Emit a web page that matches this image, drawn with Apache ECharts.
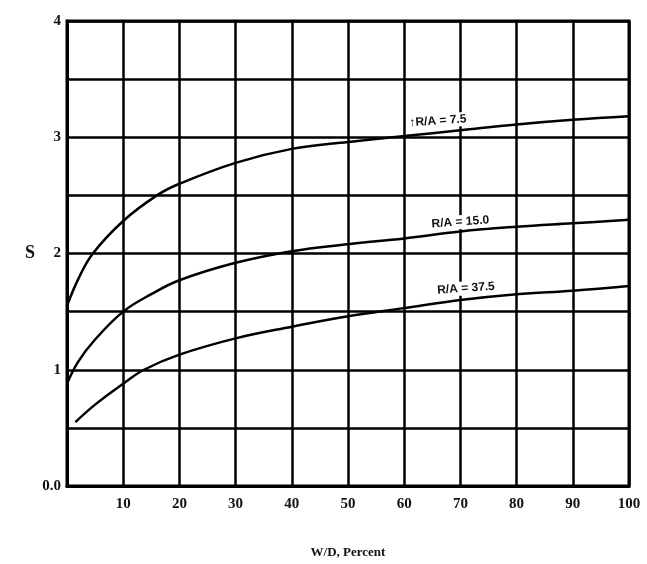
<!DOCTYPE html>
<html><head><meta charset="utf-8">
<script src="https://cdn.jsdelivr.net/npm/echarts@6/dist/echarts.min.js"></script>
<style>html,body{margin:0;padding:0;background:#fff}#c{width:647px;height:564px}</style>
</head><body><div id="c"></div>
<script>
const xTicks = [0,10,20,30,40,50,60,70,80,90,100];
const yTicks = [0,0.5,1,1.5,2,2.5,3,3.5,4];
const xA = [0,2,4.6,10,16,20,30,40,50,60,70,80,90,100];
const yA = [1.55,1.78,2.0,2.28,2.5,2.6,2.78,2.9,2.96,3.01,3.06,3.11,3.15,3.18];
const xB = [0,2,5,10,15,20,30,40,50,60,70,80,90,100];
const yB = [0.88,1.07,1.26,1.5,1.65,1.77,1.92,2.02,2.08,2.13,2.19,2.23,2.26,2.29];
const xC = [1.5,5,10,13.7,20,30,40,50,60,70,80,90,100];
const yC = [0.55,0.7,0.88,1.0,1.13,1.27,1.37,1.46,1.53,1.6,1.65,1.68,1.72];
const curveNames = ['↑R/A = 7.5','R/A = 15.0','R/A = 37.5'];
const labelAt = [[66,3.14],[70,2.27],[71,1.7]];

const font = '"Liberation Serif", "DejaVu Serif", serif';
function mk(xs, ys){ return xs.map((x,i)=>[x, ys[i]]); }
const sets = [mk(xA,yA), mk(xB,yB), mk(xC,yC)];

const chart = echarts.init(document.getElementById('c'));
chart.setOption({
  backgroundColor:'#fff',
  animation:false,
  grid:{left:67, right:18, top:21, bottom:78, show:true, borderColor:'#000', borderWidth:3},
  xAxis:{type:'value', min:0, max:100, interval:10,
    name:'W/D, Percent', nameLocation:'middle', nameGap:60,
    nameTextStyle:{fontFamily:font, fontWeight:'bold', fontSize:13, color:'#111'},
    axisLine:{show:true, lineStyle:{color:'#000', width:3}},
    axisTick:{show:false},
    splitLine:{show:true, lineStyle:{color:'#000', width:2.5}},
    axisLabel:{fontFamily:font, fontWeight:'bold', fontSize:15, color:'#111', margin:11,
      formatter:v=> v===0 ? '' : String(v)}},
  yAxis:{type:'value', min:0, max:4, interval:0.5,
    name:'S', nameLocation:'middle', nameGap:32, nameRotate:0,
    nameTextStyle:{fontFamily:font, fontWeight:'bold', fontSize:18, color:'#111'},
    axisLine:{show:true, lineStyle:{color:'#000', width:3}},
    axisTick:{show:false},
    splitLine:{show:true, lineStyle:{color:'#000', width:2.5}},
    axisLabel:{fontFamily:font, fontWeight:'bold', fontSize:15, color:'#111', margin:6,
      formatter:v=> v===0 ? '0.0' : (Number.isInteger(v) ? String(v) : '')}},
  series: sets.map((d,i)=>({
    type:'line', data:d, smooth:0.4, showSymbol:false, symbol:'none',
    lineStyle:{color:'#000', width:2.5},
    markPoint:{symbol:'circle', symbolSize:0,
      data:[{coord:labelAt[i], label:{show:true, formatter:curveNames[i], position:'inside',
        backgroundColor:'#fff', padding:[1,2],
        fontFamily:'"Liberation Sans Narrow", "Liberation Sans", Arial, sans-serif', fontWeight:'bold', fontSize:12, color:'#111', rotate:4}}]}
  }))
});
</script></body></html>
